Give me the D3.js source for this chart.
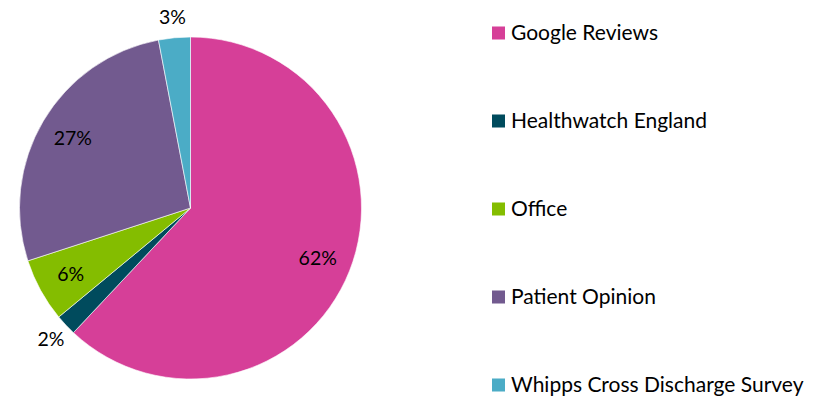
<!DOCTYPE html>
<html>
<head>
<meta charset="utf-8">
<script src="https://cdn.jsdelivr.net/npm/d3@7"></script>
<style>
  body { margin: 0; background: #fff; }
  text { font-family: Lato, "Open Sans", sans-serif; }
</style>
</head>
<body>
<div id="chart"></div>
<script>
const categories = [
  "Google Reviews",
  "Healthwatch England",
  "Office",
  "Patient Opinion",
  "Whipps Cross Discharge Survey",
];
const shares = [62, 2, 6, 27, 3];
const sliceColors = ["#D63F98", "#004B5D", "#84BD00", "#725A8F", "#4BACC6"];

const width = 819;
const height = 400;
const cx = 190.5;
const cy = 208;
const radius = 171;

const svg = d3
  .select("#chart")
  .append("svg")
  .attr("width", width)
  .attr("height", height);

const data = categories.map((c, i) => ({ name: c, value: shares[i], color: sliceColors[i] }));

const pie = d3.pie().value((d) => d.value).sort(null);
const arc = d3.arc().innerRadius(0).outerRadius(radius);
const arcs = pie(data);

const pieGroup = svg.append("g").attr("transform", `translate(${cx}, ${cy})`);

pieGroup
  .selectAll("path")
  .data(arcs)
  .join("path")
  .attr("d", arc)
  .attr("fill", (d) => d.data.color)
  .attr("stroke", "#fff")
  .attr("stroke-width", 0.6);

// labels: big slices inside, small ones outside
const insideArc = d3.arc().innerRadius(radius * 0.8).outerRadius(radius * 0.8);
const outsideArc = d3.arc().innerRadius(radius * 1.12).outerRadius(radius * 1.12);

pieGroup
  .selectAll(".pct")
  .data(arcs)
  .join("text")
  .attr("class", "pct")
  .attr("transform", (d) => {
    const small = d.data.value < 5;
    const [x, y] = (small ? outsideArc : insideArc).centroid(d);
    return `translate(${x}, ${y})`;
  })
  .attr("text-anchor", "middle")
  .attr("dy", "0.35em")
  .style("font-size", "19.5px")
  .attr("fill", "#000")
  .text((d) => `${d.data.value}%`);

// Legend
const legendY = d3.scalePoint().domain(categories).range([33, 385]);

const legend = svg
  .selectAll(".legend-item")
  .data(categories)
  .join("g")
  .attr("class", "legend-item")
  .attr("transform", (d) => `translate(492, ${legendY(d)})`);

legend
  .append("rect")
  .attr("y", -6.5)
  .attr("width", 13)
  .attr("height", 13)
  .attr("fill", (d, i) => sliceColors[i]);

legend
  .append("text")
  .attr("x", 19)
  .attr("dy", "0.35em")
  .style("font-size", "21px")
  .attr("fill", "#000")
  .text((d) => d);
</script>
</body>
</html>
